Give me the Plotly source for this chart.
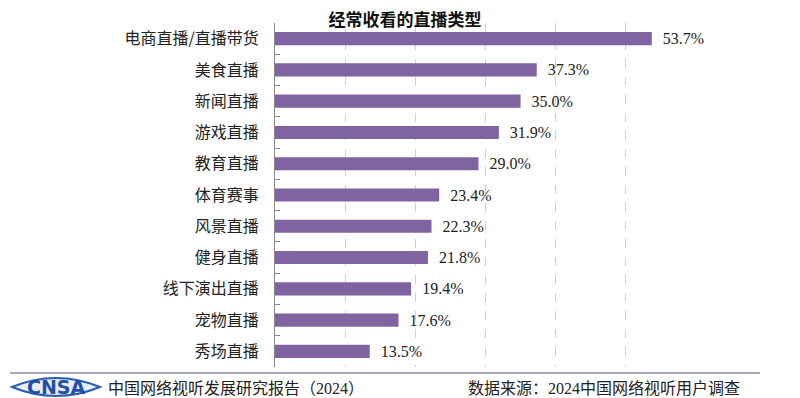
import plotly.graph_objects as go

categories = ["电商直播/直播带货", "美食直播", "新闻直播", "游戏直播", "教育直播", "体育赛事",
              "风景直播", "健身直播", "线下演出直播", "宠物直播", "秀场直播"]
values = [53.7, 37.3, 35.0, 31.9, 29.0, 23.4, 22.3, 21.8, 19.4, 17.6, 13.5]
labels = [f"\u00a0\u00a0{v:.1f}%" for v in values]
title_text = "经常收看的直播类型"
footer_left = "中国网络视听发展研究报告（2024）"
footer_right = "数据来源：2024中国网络视听用户调查"

# the page body adds ~8px offset; design in reference pixel coords and shift
OFF = 8
W, H = 800 - OFF, 398 - OFF
X0, X1 = 275, 696      # plot area in reference px
Y0, Y1 = 23, 367

fig = go.Figure(go.Bar(
    x=values, y=categories, orientation="h",
    marker=dict(color="#8064A2", line=dict(width=0)),
    width=0.42,
    text=labels, textposition="outside", cliponaxis=False, constraintext="none",
    textfont=dict(family="Liberation Serif", size=16, color="#222222"),
))

fig.update_layout(
    width=W, height=H,
    margin=dict(l=X0 - OFF, r=W - (X1 - OFF), t=Y0 - OFF, b=H - (Y1 - OFF)),
    paper_bgcolor="white", plot_bgcolor="white",
    showlegend=False,
    title=dict(text=f"<b>{title_text}</b>", x=(405 - OFF) / W, xanchor="center",
               y=1 - (20 - OFF) / H, yanchor="middle",
               font=dict(family="Noto Sans CJK SC", size=17, color="#111111")),
    xaxis=dict(range=[0, 60], dtick=10, showticklabels=False, showgrid=True,
               gridcolor="#d0d0d0", griddash="dash", gridwidth=1, zeroline=False,
               showline=False),
    yaxis=dict(autorange="reversed", showline=True, linecolor="#888888", linewidth=1,
               ticks="inside", ticklen=5, tickcolor="#888888", tickson="boundaries",
               ticklabelstandoff=12,
               tickfont=dict(family="Noto Sans CJK SC", size=16, color="#222222")),
)

def px(xp):
    return (xp - X0) / (X1 - X0)

def py(yp):
    return (Y1 - yp) / (Y1 - Y0)

# footer separator line
fig.add_shape(type="line", xref="paper", yref="paper",
              x0=px(10), x1=px(760), y0=py(373), y1=py(373),
              line=dict(color="#8a8fa6", width=1.5))

# logo: eye outline + CNSA letters
path = (f"M {px(12)},{py(387)} Q {px(56)},{py(369)} {px(100)},{py(387)} "
        f"Q {px(56)},{py(405)} {px(12)},{py(387)} Z")
fig.add_shape(type="path", xref="paper", yref="paper", path=path,
              line=dict(color="#2a5db0", width=2), fillcolor="rgba(215,225,245,0.6)")
fig.add_annotation(xref="paper", yref="paper", x=px(56), y=py(387), text="<b>CNSA</b>",
                   showarrow=False, xanchor="center", yanchor="middle",
                   font=dict(family="DejaVu Sans", size=19, color="#1f4fa8"))
fig.add_annotation(xref="paper", yref="paper", x=px(106), y=py(388), text=footer_left,
                   showarrow=False, xanchor="left", yanchor="middle",
                   font=dict(family="Liberation Serif, Noto Sans CJK SC", size=16, color="#222222"))
fig.add_annotation(xref="paper", yref="paper", x=px(742), y=py(388), text=footer_right,
                   showarrow=False, xanchor="right", yanchor="middle",
                   font=dict(family="Liberation Serif, Noto Sans CJK SC", size=16, color="#222222"))

fig.write_html("out.html")
